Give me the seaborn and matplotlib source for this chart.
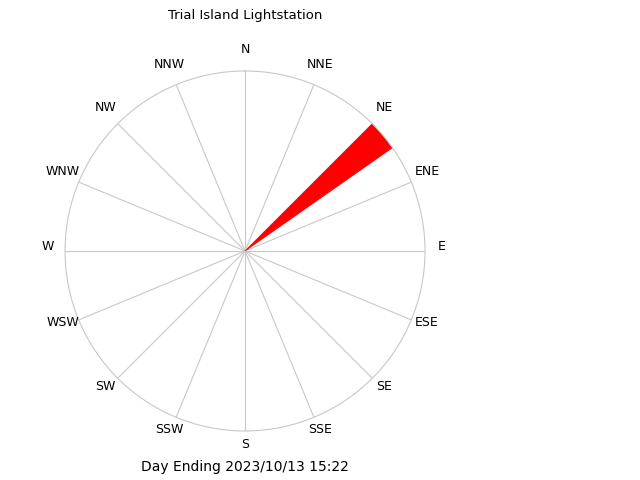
import numpy as np
import matplotlib
matplotlib.use('Agg')
import matplotlib.pyplot as plt
import matplotlib.transforms as mtransforms
import seaborn as sns

# Wind direction data (degrees from north) and relative frequency
compass_labels = ['N', 'NNE', 'NE', 'ENE', 'E', 'ESE', 'SE', 'SSE',
                  'S', 'SSW', 'SW', 'WSW', 'W', 'WNW', 'NW', 'NNW']
dir_from = [45.0]
dir_to = [55.0]
freq = [1.0]

title = 'Trial Island Lightstation'
footer = 'Day Ending 2023/10/13 15:22'

sns.set_style('white')
plt.rcParams['font.family'] = ['DejaVu Sans']
plt.rcParams['text.color'] = 'black'

fig = plt.figure(figsize=(6.4, 4.8), dpi=100)
ax = fig.add_axes([0.1016, 0.1021, 0.5625, 0.75], projection='polar')
ax.set_theta_zero_location('N')
ax.set_theta_direction(-1)

for a, b, f in zip(dir_from, dir_to, freq):
    ax.bar(np.deg2rad((a + b) / 2), f, width=np.deg2rad(b - a),
           bottom=0, color='red', edgecolor='red', linewidth=0.5, align='center')

ax.set_ylim(0, 1)
ax.set_rgrids([])
angles = np.arange(0, 360, 22.5)
ax.set_thetagrids(angles, [''] * len(angles))
ax.xaxis.grid(True, color='#c8c8c8', linewidth=0.8)
ax.yaxis.grid(False)
ax.spines['polar'].set_color('#c8c8c8')
ax.spines['polar'].set_linewidth(0.8)
ax.set_facecolor('white')

# compass labels just outside the ring, nudged up a little
shift = mtransforms.offset_copy(ax.transData, fig=fig, y=4, units='dots')
for ang, lab in zip(angles, compass_labels):
    ax.text(np.deg2rad(ang), 1.095, lab, transform=shift, ha='center', va='center',
            fontsize=9, color='black', clip_on=False)

fig.text(245 / 640, 1 - 15 / 480, title, ha='center', va='center', fontsize=9.5, color='black')
fig.text(245 / 640, 1 - 467 / 480, footer, ha='center', va='center', fontsize=10, color='black')

fig.savefig('out.png', dpi=100, facecolor='white')
